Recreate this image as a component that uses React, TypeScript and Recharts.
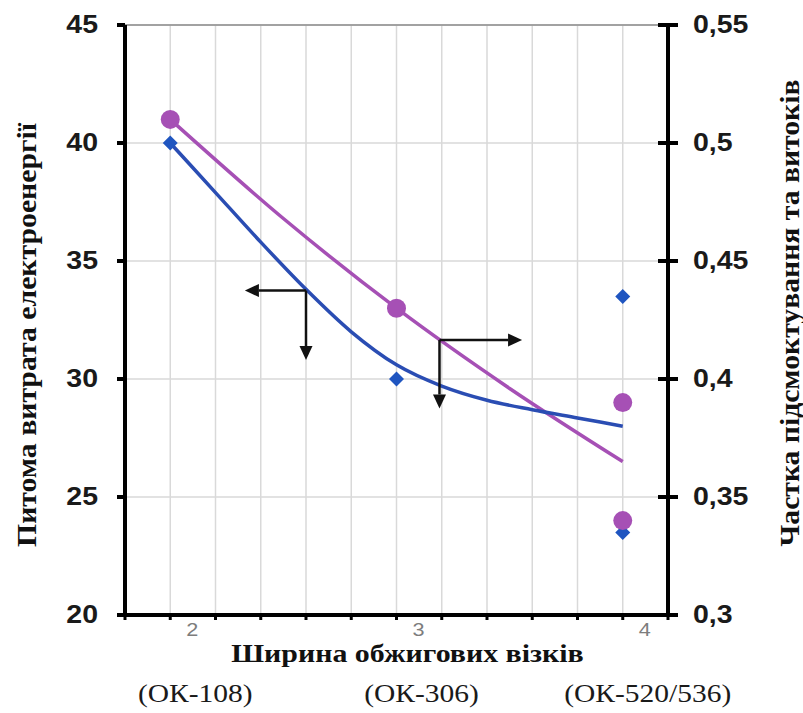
import React from 'react';
import { ComposedChart, Line, Scatter, XAxis, YAxis, CartesianGrid, ReferenceLine, Label } from 'recharts';

// ---- data ----
const xTicks = [1.8, 2, 2.2, 2.4, 2.6, 2.8, 3, 3.2, 3.4, 3.6, 3.8, 4, 4.2];
const xLabelValues = [2, 3, 4];
const xLabels = ['2', '3', '4'];
const kilnModels = ['(ОК-108)', '(ОК-306)', '(ОК-520/536)'];
const leftTicks = [20, 25, 30, 35, 40, 45];
const rightTicks = [0.3, 0.35, 0.4, 0.45, 0.5, 0.55];
const rightTickLabels = ['0,3', '0,35', '0,4', '0,45', '0,5', '0,55'];

const xTitle = 'Ширина обжигових візків';
const leftTitle = 'Питома витрата електроенергії';
const rightTitle = 'Частка підсмоктування та витоків';

// specific energy consumption (left axis)
const energyPoints = [
  { x: 2, y: 40 },
  { x: 3, y: 30 },
  { x: 4, y: 33.5 },
  { x: 4, y: 23.5 },
];
const energyTrend = [
  { x: 2.0, y: 40 },
  { x: 2.2, y: 37.9 },
  { x: 2.4, y: 35.8 },
  { x: 2.6, y: 33.8 },
  { x: 2.8, y: 32.0 },
  { x: 3.0, y: 30.6 },
  { x: 3.2, y: 29.7 },
  { x: 3.4, y: 29.1 },
  { x: 3.6, y: 28.7 },
  { x: 3.8, y: 28.35 },
  { x: 4.0, y: 28.0 },
];
// share of air suction and leaks (right axis)
const leakPoints = [
  { x: 2, y: 0.51 },
  { x: 3, y: 0.43 },
  { x: 4, y: 0.39 },
  { x: 4, y: 0.34 },
];
const leakTrend = [
  { x: 2.0, y: 0.51 },
  { x: 2.5, y: 0.468 },
  { x: 3.0, y: 0.43 },
  { x: 3.5, y: 0.396 },
  { x: 4.0, y: 0.365 },
];
// axis-pointer arrows
const energyArrow = { x: 2.6, y: 33.75, toX: 2.33, toY: 30.8 };
const leakArrow = { x: 3.19, y: 0.4165, toX: 3.555, toY: 0.3875 };

// ---- styles ----
const BLUE_LINE = '#2a4db3';
const BLUE_MARK = '#1f55c0';
const PURPLE = '#a650b5';
const SERIF = '"Liberation Serif", "Times New Roman", serif';
const SANS = '"Liberation Sans", Arial, sans-serif';
const STRETCH = 1.14;

const ArrowShape = (p: any) => {
  const { x1, y1, x2, y2 } = p;
  if ([x1, y1, x2, y2].some((v) => typeof v !== 'number' || isNaN(v))) return null;
  const ang = Math.atan2(y2 - y1, x2 - x1);
  const len = 14;
  const hw = 6.5;
  const bx = x2 - len * Math.cos(ang);
  const by = y2 - len * Math.sin(ang);
  const px = -Math.sin(ang) * hw;
  const py = Math.cos(ang) * hw;
  return (
    <g>
      <line x1={x1} y1={y1} x2={bx} y2={by} stroke="#111" strokeWidth={2.5} />
      <polygon points={`${x2},${y2} ${bx + px},${by + py} ${bx - px},${by - py}`} fill="#111" />
    </g>
  );
};

const Diamond = (p: any) => {
  const { cx, cy } = p;
  const r = 7.5;
  return <polygon points={`${cx},${cy - r} ${cx + r},${cy} ${cx},${cy + r} ${cx - r},${cy}`} fill={BLUE_MARK} />;
};

const Circle = (p: any) => {
  const { cx, cy } = p;
  return <circle cx={cx} cy={cy} r={9.5} fill={PURPLE} />;
};

const LeftTick = (p: any) => {
  const { x, y, payload } = p;
  return (
    <g>
      <line x1={x - 8} x2={x} y1={y} y2={y} stroke="#000" strokeWidth={4} />
      <g transform={`translate(${x - 27},${y}) scale(${STRETCH},1)`}>
        <text x={0} y={0} textAnchor="end" dominantBaseline="central" fontFamily={SANS} fontWeight="bold" fontSize={25} fill="#1a1a1a">
          {payload.value}
        </text>
      </g>
    </g>
  );
};

const RightTick = (p: any) => {
  const { x, y, payload, index } = p;
  const i = rightTicks.findIndex((t) => Math.abs(t - payload.value) < 1e-9);
  const label = i >= 0 ? rightTickLabels[i] : rightTickLabels[index];
  return (
    <g>
      <line x1={x - 10} x2={x + 10} y1={y} y2={y} stroke="#000" strokeWidth={4} />
      <g transform={`translate(${x + 25},${y}) scale(${STRETCH},1)`}>
        <text x={0} y={0} textAnchor="start" dominantBaseline="central" fontFamily={SANS} fontWeight="bold" fontSize={25} fill="#1a1a1a">
          {label}
        </text>
      </g>
    </g>
  );
};

const BottomTick = (p: any) => {
  const { x, y, payload } = p;
  const i = xLabelValues.findIndex((t) => Math.abs(t - payload.value) < 1e-9);
  return (
    <g>
      <line x1={x} x2={x} y1={y} y2={y + 5} stroke="#000" strokeWidth={3} />
      {i >= 0 && (
        <g>
          <g transform={`translate(${x + 22},${y + 21}) scale(${STRETCH},1)`}>
            <text x={0} y={0} textAnchor="middle" fontFamily={SANS} fontSize={19} fill="#7d7d7d">
              {xLabels[i]}
            </text>
          </g>
          <g transform={`translate(${x + 25},${y + 87}) scale(1.18,1)`}>
            <text x={0} y={0} textAnchor="middle" fontFamily={SERIF} fontSize={25} fill="#1a1a1a">
              {kilnModels[i]}
            </text>
          </g>
        </g>
      )}
    </g>
  );
};

const XTitle = (p: any) => {
  const vb = p.viewBox || {};
  const cx = vb.x + vb.width / 2 + 11;
  const y = vb.y + 47;
  return (
    <g transform={`translate(${cx},${y}) scale(1.15,1)`}>
      <text x={0} y={0} textAnchor="middle" fontFamily={SERIF} fontWeight="bold" fontSize={26} fill="#111">
        {xTitle}
      </text>
    </g>
  );
};

const LeftTitle = (p: any) => {
  const vb = p.viewBox || {};
  const x = vb.x + 26;
  const y = 335;
  return (
    <text x={x} y={y} transform={`rotate(-90 ${x} ${y})`} textAnchor="middle" dominantBaseline="central" fontFamily={SERIF} fontWeight="bold" fontSize={28} textLength={424} lengthAdjust="spacingAndGlyphs" fill="#111">
      {leftTitle}
    </text>
  );
};

const RightTitle = (p: any) => {
  const vb = p.viewBox || {};
  const x = vb.x + 121;
  const y = 313;
  return (
    <text x={x} y={y} transform={`rotate(-90 ${x} ${y})`} textAnchor="middle" dominantBaseline="central" fontFamily={SERIF} fontWeight="bold" fontSize={28} textLength={467} lengthAdjust="spacingAndGlyphs" fill="#111">
      {rightTitle}
    </text>
  );
};

export default function App() {
  return (
    <div style={{ position: 'absolute', left: 0, top: 0, width: 803, height: 713, background: '#fff' }}>
      <ComposedChart width={803} height={713} margin={{ top: 25, right: 0, bottom: 0, left: 0 }}>
        <CartesianGrid yAxisId="left" stroke="#d9d9d9" strokeWidth={1.5} />
        <XAxis
          type="number"
          dataKey="x"
          domain={[1.8, 4.2]}
          ticks={xTicks}
          interval={0}
          height={98}
          axisLine={{ stroke: '#000', strokeWidth: 4 }}
          tickLine={false}
          tickSize={0}
          tickMargin={0}
          tick={<BottomTick />}
          allowDataOverflow
        >
          <Label content={<XTitle />} />
        </XAxis>
        <YAxis
          yAxisId="left"
          type="number"
          domain={[20, 45]}
          ticks={leftTicks}
          interval={0}
          width={125}
          axisLine={{ stroke: '#000', strokeWidth: 4 }}
          tickLine={false}
          tickSize={0}
          tickMargin={0}
          tick={<LeftTick />}
          allowDataOverflow
        >
          <Label content={<LeftTitle />} />
        </YAxis>
        <YAxis
          yAxisId="right"
          orientation="right"
          type="number"
          domain={[0.3, 0.55]}
          ticks={rightTicks}
          interval={0}
          width={135}
          axisLine={{ stroke: '#000', strokeWidth: 4 }}
          tickLine={false}
          tickSize={0}
          tickMargin={0}
          tick={<RightTick />}
          allowDataOverflow
        >
          <Label content={<RightTitle />} />
        </YAxis>
        <ReferenceLine yAxisId="left" y={45} stroke="#8c8c8c" strokeWidth={1.5} />

        <Line yAxisId="right" data={leakTrend} dataKey="y" type="monotone" stroke={PURPLE} strokeWidth={3.5} dot={false} activeDot={false} isAnimationActive={false} />
        <Line yAxisId="left" data={energyTrend} dataKey="y" type="monotone" stroke={BLUE_LINE} strokeWidth={3.5} dot={false} activeDot={false} isAnimationActive={false} />
        <Scatter yAxisId="left" data={energyPoints} dataKey="y" shape={Diamond} isAnimationActive={false} />
        <Scatter yAxisId="right" data={leakPoints} dataKey="y" shape={Circle} isAnimationActive={false} />

        <ReferenceLine yAxisId="left" segment={[{ x: energyArrow.x, y: energyArrow.y }, { x: energyArrow.toX, y: energyArrow.y }]} shape={ArrowShape} />
        <ReferenceLine yAxisId="left" segment={[{ x: energyArrow.x, y: energyArrow.y }, { x: energyArrow.x, y: energyArrow.toY }]} shape={ArrowShape} />
        <ReferenceLine yAxisId="right" segment={[{ x: leakArrow.x, y: leakArrow.y }, { x: leakArrow.toX, y: leakArrow.y }]} shape={ArrowShape} />
        <ReferenceLine yAxisId="right" segment={[{ x: leakArrow.x, y: leakArrow.y }, { x: leakArrow.x, y: leakArrow.toY }]} shape={ArrowShape} />
      </ComposedChart>
    </div>
  );
}
